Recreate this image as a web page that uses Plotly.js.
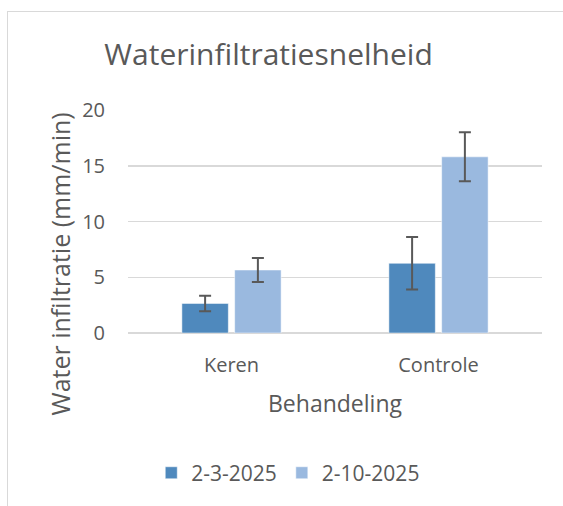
<!DOCTYPE html>
<html>
<head>
<meta charset="utf-8">
<script src="https://cdn.plot.ly/plotly-3.0.1.min.js"></script>
<style>
  html, body { margin: 0; padding: 0; background: #fff; }
  #wrap { position: relative; width: 563px; height: 506px; overflow: hidden; }
  #chart { position: absolute; left: 0; top: 0; width: 563px; height: 506px; }
  #border { position: absolute; left: 7px; top: 11px; width: 600px; height: 600px; border: 1px solid #d9d9d9; pointer-events: none; }
</style>
</head>
<body>
<div id="wrap">
  <div id="chart"></div>
  <div id="border"></div>
</div>
<script>
const categories = ["Keren", "Controle"];
const seriesNames = ["2-3-2025", "2-10-2025"];
const values2_3 = [2.65, 6.25];
const err2_3 = [0.7, 2.35];
const values2_10 = [5.65, 15.8];
const err2_10 = [1.08, 2.2];
const yTicks = [0, 5, 10, 15, 20];
const yTitle = "Water infiltratie (mm/min)";

const FONT = "Open Sans, sans-serif";
const TXT = "#595959";

const errStyle = { type: "data", visible: true, color: "#595959", thickness: 2, width: 6 };

const data = [
  { type: "bar", name: seriesNames[0], x: categories, y: values2_3,
    marker: { color: "#4f89bd", line: { color: "#ffffff", width: 0.5 } },
    error_y: Object.assign({ array: err2_3 }, errStyle) },
  { type: "bar", name: seriesNames[1], x: categories, y: values2_10,
    marker: { color: "#9ab9df", line: { color: "#ffffff", width: 0.5 } },
    error_y: Object.assign({ array: err2_10 }, errStyle) }
];

const layout = {
  width: 563, height: 506,
  paper_bgcolor: "rgba(0,0,0,0)", plot_bgcolor: "#ffffff",
  font: { family: FONT, color: TXT },
  margin: { l: 128, r: 21, t: 110, b: 173 },
  barmode: "group", bargap: 0.49, bargroupgap: 0.12,
  title: { text: "Waterinfiltratiesnelheid", font: { family: FONT, size: 30, color: TXT },
           x: 0.477, xref: "container", xanchor: "center", y: 0.892, yref: "container", yanchor: "middle" },
  xaxis: {
    type: "category", showgrid: false, zeroline: false, showline: false, ticks: "",
    tickfont: { size: 20, color: TXT }, ticklabelstandoff: 18,
    title: { text: "Behandeling", font: { size: 23, color: TXT }, standoff: 18 }
  },
  yaxis: {
    range: [0, 20], tickvals: yTicks, ticktext: yTicks.map(String),
    showgrid: true, gridcolor: "#d9d9d9", gridwidth: 1.5, zeroline: true, zerolinecolor: "#d9d9d9", zerolinewidth: 1.5,
    showline: false, ticks: "", ticklabelstandoff: 22,
    tickfont: { size: 20, color: TXT }
  },
  annotations: [{
    text: yTitle, textangle: -90, showarrow: false,
    xref: "paper", yref: "paper", x: -0.164, y: 0.308, xanchor: "center", yanchor: "middle",
    font: { size: 25, color: TXT }
  }],
  showlegend: true,
  legend: { orientation: "h", x: 0.512, xanchor: "center", xref: "container", y: 0.065, yref: "container", yanchor: "middle",
            font: { size: 21, color: TXT }, itemwidth: 30, traceorder: "normal" }
};

Plotly.newPlot("chart", data, layout, { displayModeBar: false, staticPlot: true });
</script>
</body>
</html>
